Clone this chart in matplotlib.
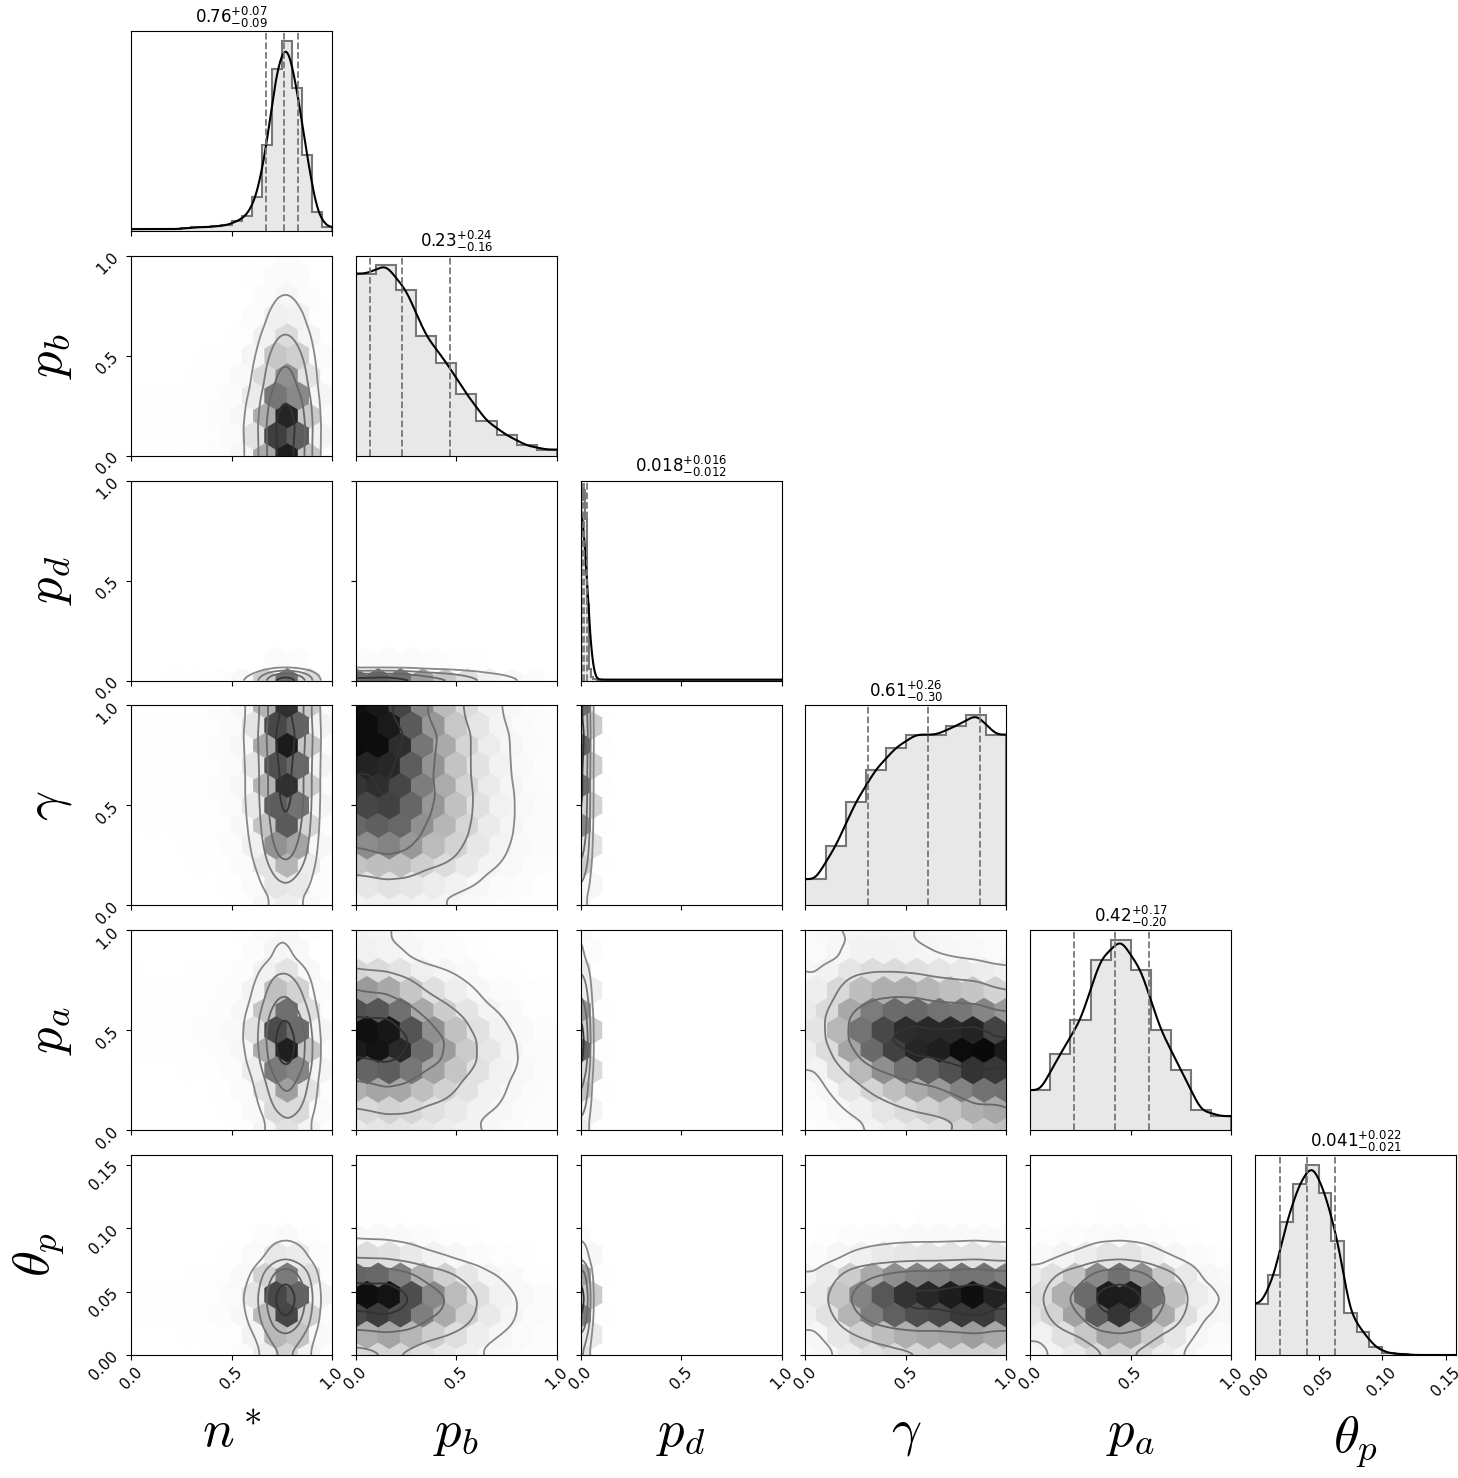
import matplotlib
matplotlib.use("Agg")
import matplotlib.pyplot as plt
import numpy as np

plt.rcParams["mathtext.fontset"] = "cm"

labels = [r"$n^*$", r"$p_b$", r"$p_d$", r"$\gamma$", r"$p_a$", r"$\theta_p$"]
titles = [r"0.76$^{+0.07}_{-0.09}$", r"0.23$^{+0.24}_{-0.16}$", r"0.018$^{+0.016}_{-0.012}$",
          r"0.61$^{+0.26}_{-0.30}$", r"0.42$^{+0.17}_{-0.20}$", r"0.041$^{+0.022}_{-0.021}$"]
medians = [0.76, 0.23, 0.018, 0.61, 0.42, 0.041]
err_hi = [0.07, 0.24, 0.016, 0.26, 0.17, 0.022]
err_lo = [0.09, 0.16, 0.012, 0.30, 0.20, 0.021]
ranges = [(0, 1), (0, 1), (0, 1), (0, 1), (0, 1), (0, 0.158)]

# histogram heights (relative)
hist_n = [0.01, 0.01, 0.01, 0.01, 0.01, 0.015, 0.02, 0.02, 0.025, 0.03,
          0.05, 0.08, 0.18, 0.45, 0.85, 1.0, 0.75, 0.4, 0.1, 0.02]
hist_pb = [0.88, 0.92, 0.8, 0.58, 0.45, 0.3, 0.17, 0.1, 0.05, 0.03]
hist_pd = [0.95, 1.0, 0.85, 0.4, 0.06, 0.02, 0.01, 0.01] + [0.005] * 92
hist_g = [0.12, 0.27, 0.47, 0.62, 0.72, 0.78, 0.78, 0.82, 0.87, 0.78]
hist_pa = [0.2, 0.38, 0.55, 0.85, 0.95, 0.8, 0.5, 0.3, 0.1, 0.07]
hist_th = [0.27, 0.42, 0.7, 0.9, 1.0, 0.85, 0.6, 0.22, 0.12, 0.04, 0.01, 0.005, 0.0, 0.0, 0.0, 0.0]
hists = [hist_n, hist_pb, hist_pd, hist_g, hist_pa, hist_th]

# pairwise correlation
corr = {(4, 0): -0.3, (4, 1): -0.2, (4, 3): -0.25, (5, 1): -0.2, (3, 1): -0.1,
        (5, 0): 0.05, (5, 3): 0.0, (5, 4): 0.0, (3, 0): 0.0, (1, 0): 0.0}

yticks = [[0.0, 0.5, 1.0]] * 5 + [[0.0, 0.05, 0.10, 0.15]]
yticklabels = [["0.0", "0.5", "1.0"]] * 5 + [["0.00", "0.05", "0.10", "0.15"]]


def marginal(i, x):
    lo, hi = ranges[i]
    h = np.array(hists[i], float)
    edges = np.linspace(lo, hi if i != 5 else 0.16, len(h) + 1)
    centers = 0.5 * (edges[:-1] + edges[1:])
    fine = np.linspace(lo, hi, 600)
    y = np.interp(fine, centers, h)
    k = np.exp(-0.5 * (np.arange(-30, 31) / 12.0) ** 2)
    y = np.convolve(np.pad(y, 30, mode="edge"), k / k.sum(), mode="same")[30:-30]
    return np.interp(x, fine, y), edges


fig = plt.figure(figsize=(14.58, 14.78), dpi=100)
W, H = 201 / 1458, 200 / 1478
n = 6
for r in range(n):
    for c in range(r + 1):
        left = (131 + 224.8 * c) / 1458
        bottom = 1 - (31 + 224.8 * r) / 1478 - H
        ax = fig.add_axes([left, bottom, W, H])
        xr = ranges[c]
        if r == c:
            h = np.array(hists[c], float)
            _, edges = marginal(c, np.array([0.0]))
            ax.stairs(h, edges, fill=True, color="#e8e8e8")
            ax.stairs(h, edges, color="#777777", lw=1.5)
            xx = np.linspace(*xr, 400)
            yy, _ = marginal(c, xx)
            ax.plot(xx, yy, color="black", lw=1.5)
            for q in [medians[c] - err_lo[c], medians[c], medians[c] + err_hi[c]]:
                ax.axvline(q, color="#777777", ls="--", lw=1.3)
            ax.set_ylim(0, max(h.max(), yy.max()) * 1.05)
            ax.set_yticks([])
            ax.set_title(titles[c], fontsize=12, math_fontfamily="dejavusans")
        else:
            yr = ranges[r]
            gx = np.linspace(*xr, 120)
            gy = np.linspace(*yr, 120)
            X, Y = np.meshgrid(gx, gy)
            fx, _ = marginal(c, X)
            fy, _ = marginal(r, Y)
            sx = (xr[1] - xr[0]) * 0.25
            sy = (yr[1] - yr[0]) * 0.25
            rho = corr.get((r, c), 0.0)
            Z = fx * fy * np.exp(rho * (X - medians[c]) / sx * (Y - medians[r]) / sy)
            Z = Z / Z.max()
            ax.hexbin(X.ravel(), Y.ravel(), C=Z.ravel(), gridsize=9,
                      extent=(xr[0], xr[1], yr[0], yr[1]), cmap="Greys",
                      vmin=0.0, vmax=1.0, reduce_C_function=np.mean, mincnt=1)
            ax.contour(X, Y, Z, levels=[0.08, 0.25, 0.5, 0.85],
                       colors=["#888888", "#777777", "#666666", "#333333"], linewidths=1.3)
            ax.set_ylim(*yr)
        ax.set_xlim(*xr)
        if r == n - 1:
            if c == 5:
                ax.set_xticks([0.0, 0.05, 0.10, 0.15])
                ax.set_xticklabels(["0.00", "0.05", "0.10", "0.15"], rotation=45, fontsize=11)
            else:
                ax.set_xticks([0.0, 0.5, 1.0])
                ax.set_xticklabels(["0.0", "0.5", "1.0"], rotation=45, fontsize=11)
            ax.set_xlabel(labels[c], fontsize=38, labelpad=10)
        else:
            ax.set_xticks([0.0, 0.5, 1.0] if c != 5 else [])
            ax.set_xticklabels([])
        if c == 0 and r > 0:
            ax.set_yticks(yticks[r])
            ax.set_yticklabels(yticklabels[r], rotation=45, fontsize=11)
            ax.set_ylabel(labels[r], fontsize=38, labelpad=14)
        elif r != c:
            ax.set_yticks(yticks[r])
            ax.set_yticklabels([])

fig.savefig("out.png", dpi=100)
